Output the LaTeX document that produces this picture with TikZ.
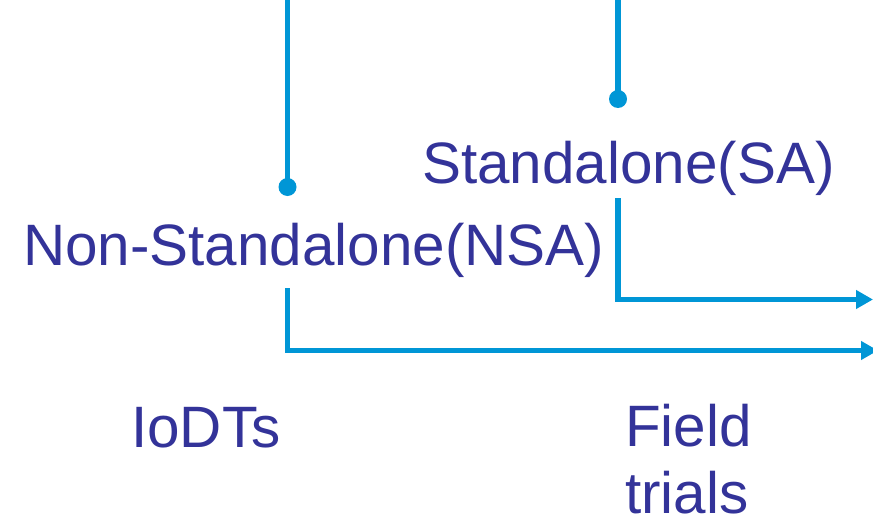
\documentclass[tikz,border=0pt]{standalone}
\usepackage{fontspec}
\setmainfont{Liberation Sans}
\usetikzlibrary{arrows.meta}
\definecolor{lineblue}{RGB}{0,150,214}
\definecolor{textblue}{RGB}{51,51,153}
\begin{document}
\begin{tikzpicture}[x=1pt,y=-1pt,
  conn/.style={draw=lineblue,line width=5.2pt},
  arrowline/.style={conn,-{Triangle[length=17pt,width=18pt]}},
  dotnode/.style={circle,fill=lineblue,minimum size=18pt,inner sep=0pt},
  label/.style={text=textblue,inner sep=0pt,anchor=base west,font=\fontsize{58.4pt}{67pt}\selectfont}]
\useasboundingbox (0,0) rectangle (873,519);
\clip (0,0) rectangle (873,519);
% top coordinates
\coordinate (t1) at (287.5,-5);
\coordinate (t2) at (618,-5);
% dots
\node[dotnode] (d1) at (287.5,187) {};
\node[dotnode] (d2) at (618,99) {};
\draw[conn] (t1) -- (d1.center);
\draw[conn] (t2) -- (d2.center);
% labels
\node[label] (sa) at (422,183) {Standalone(SA)};
\node[label] (nsa) at (23,265) {Non-Standalone(NSA)};
\node[label] (iodt) at (131,447) {IoDTs};
\node[label,align=left,anchor=north west] (ft) at (625,404) {Field\\trials};
% arrows
\coordinate (s1) at (287.5,288);
\coordinate (e1) at (878,350.5);
\coordinate (s2) at (618,198);
\coordinate (e2) at (873,299.5);
\draw[arrowline] (s1) |- (e1);
\draw[arrowline] (s2) |- (e2);
\end{tikzpicture}
\end{document}
